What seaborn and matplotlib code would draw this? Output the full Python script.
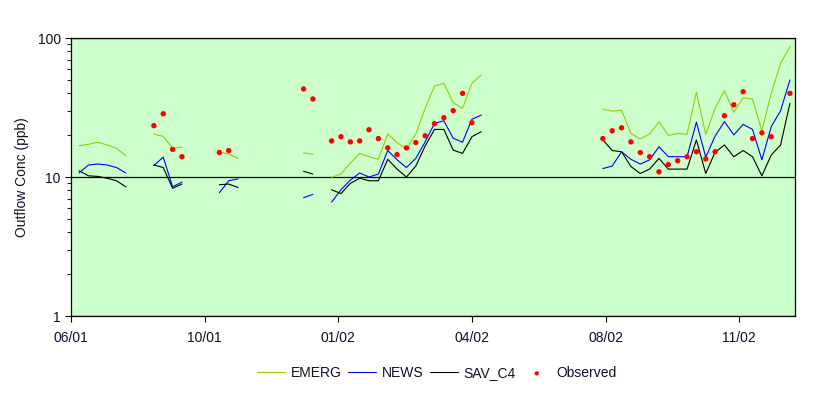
import numpy as np
import pandas as pd
import matplotlib
matplotlib.use("Agg")
import matplotlib.pyplot as plt
import matplotlib.dates as mdates
from matplotlib.ticker import LogLocator, FixedLocator, FixedFormatter, NullFormatter
import seaborn as sns

# weekly model output / observations, None = no data
N = None
emerg = [16.8, 17.2, 17.8, 17.0, 16.1, 14.2, N, N,
         20.3, 19.6, 16.1, 16.4, N, N, N,
         15.2, 14.6, 13.6, N, N, N, N, N, N,
         14.9, 14.6, N,
         9.95, 10.5, 12.6, 14.8, 14.0, 13.4, 20.4, 17.7, 15.8, 20.4, 31.2, 45.1, 47.2, 34.3, 31.2, 47.2, 54.2,
         N, N, N, N, N, N, N, N, N, N, N, N,
         30.7, 29.8, 30.2, 20.6, 18.8, 20.4, 25.0, 19.9, 20.6, 20.3, 40.7, 20.3, 31.2, 41.8, 29.2, 37.2, 36.4,
         21.5, 40.0, 65.8, 86.6]
news = [10.7, 12.2, 12.4, 12.2, 11.7, 10.7, N, N,
        12.1, 13.9, 8.5, 9.2, N, N, N,
        7.7, 9.4, 9.7, N, N, N, N, N, N,
        7.1, 7.5, N,
        6.6, 8.1, 9.5, 10.7, 10.0, 10.5, 15.5, 13.3, 11.7, 13.6, 17.9, 24.3, 25.4, 19.0, 17.8, 26.0, 27.9,
        N, N, N, N, N, N, N, N, N, N, N, N,
        11.5, 12.0, 15.2, 13.4, 12.4, 13.3, 16.5, 14.0, 14.0, 14.0, 24.8, 13.9, 19.7, 25.0, 20.1, 23.9, 22.0,
        13.3, 23.0, 30.0, 49.9]
sav_c4 = [11.1, 10.2, 10.1, 9.8, 9.4, 8.5, N, N,
          12.2, 11.7, 8.3, 8.9, N, N, N,
          8.8, 8.9, 8.4, N, N, N, N, N, N,
          11.0, 10.5, N,
          8.1, 7.6, 9.0, 9.8, 9.4, 9.4, 13.4, 11.4, 10.0, 12.0, 16.7, 22.0, 22.0, 15.6, 14.8, 19.5, 21.2,
          N, N, N, N, N, N, N, N, N, N, N, N,
          18.5, 15.5, 15.2, 11.9, 10.6, 11.4, 13.6, 11.4, 11.4, 11.4, 18.5, 10.6, 15.1, 17.0, 14.0, 15.5, 14.0,
          10.2, 14.4, 17.0, 33.9]
observed = [N, N, N, N, N, N, N, N,
            23.4, 28.5, 15.8, 14.0, N, N, N,
            15.0, 15.5, N, N, N, N, N, N, N,
            43.0, 36.4, N,
            18.2, 19.5, 17.9, 18.2, 21.9, 18.9, 16.2, 14.5, 16.2, 17.7, 19.8, 24.2, 26.7, 30.0, 40.0, 24.6, N,
            N, N, N, N, N, N, N, N, N, N, N, N,
            18.9, 21.5, 22.6, 17.9, 15.0, 14.0, 10.9, 12.3, 13.1, 14.0, 15.2, 13.5, 15.2, 27.6, 33.1, 41.1, 18.9,
            20.8, 19.5, N, 40.0]

dates = pd.date_range("2001-07-04", periods=len(emerg), freq="7D")
tick_dates = pd.date_range("2001-06-28", periods=6, freq="100D")
tick_labels = ["06/01", "10/01", "01/02", "04/02", "08/02", "11/02"]

colors = {"EMERG": "#99CC00", "NEWS": "#0000FF", "SAV_C4": "#000000"}
txt = "#10102a"

# long format, one unit per unbroken run so gaps stay gaps
frames = []
for name, vals in [("EMERG", emerg), ("NEWS", news), ("SAV_C4", sav_c4)]:
    s = pd.Series(vals, index=dates, dtype=float)
    seg = s.isna().cumsum()
    d = pd.DataFrame({"Date": dates, "Conc": s.values, "Model": name, "seg": seg.values})
    frames.append(d.dropna())
df = pd.concat(frames, ignore_index=True)
obs = pd.DataFrame({"Date": dates, "Conc": pd.Series(observed, dtype=float)}).dropna()

sns.set_style("white")
plt.rcParams["font.family"] = ["Liberation Sans", "DejaVu Sans"]

fig = plt.figure(figsize=(8.29, 3.96), dpi=100)
ax = fig.add_axes([0.0857, 0.202, 0.8733, 0.702])
ax.set_facecolor("#CCFFCC")

sns.lineplot(data=df, x="Date", y="Conc", hue="Model", units="seg", estimator=None,
             palette=colors, linewidth=0.8, ax=ax, legend=True)
sns.scatterplot(data=obs, x="Date", y="Conc", color="#FF0000", s=15, marker="o",
                edgecolor="none", ax=ax, label="Observed", zorder=5)

ax.set_yscale("log")
ax.set_ylim(1, 100)
ax.set_xlim(tick_dates[0], tick_dates[0] + pd.Timedelta(days=541.8))

ax.yaxis.set_major_locator(FixedLocator([1, 10, 100]))
ax.yaxis.set_major_formatter(FixedFormatter(["1", "10", "100"]))
ax.yaxis.set_minor_locator(LogLocator(base=10, subs=np.arange(2, 10)))
ax.yaxis.set_minor_formatter(NullFormatter())
ax.set_xticks(mdates.date2num(tick_dates))
ax.set_xticklabels(tick_labels)

ax.tick_params(axis="both", which="major", direction="out", length=4, width=0.8,
               colors="black", labelcolor=txt, labelsize=10, left=True, bottom=True)
ax.tick_params(axis="y", which="minor", direction="out", length=3, width=0.8, left=True)
ax.tick_params(axis="x", pad=7)
ax.grid(axis="y", which="major", color="black", linewidth=0.9)
ax.set_axisbelow(True)
for sp in ax.spines.values():
    sp.set_color("black")
    sp.set_linewidth(0.9)

ax.set_xlabel("")
ax.set_ylabel("Outflow Conc (ppb)", color=txt, fontsize=10, labelpad=6)

handles, labels = ax.get_legend_handles_labels()
ax.get_legend().remove()
fig.legend(handles, labels, loc="center", bbox_to_anchor=(0.527, 0.058), ncol=4,
           frameon=False, fontsize=10, handlelength=2.0, handletextpad=0.4,
           columnspacing=0.5, labelcolor=txt, markerscale=0.8)

fig.savefig("out.png", dpi=100)
